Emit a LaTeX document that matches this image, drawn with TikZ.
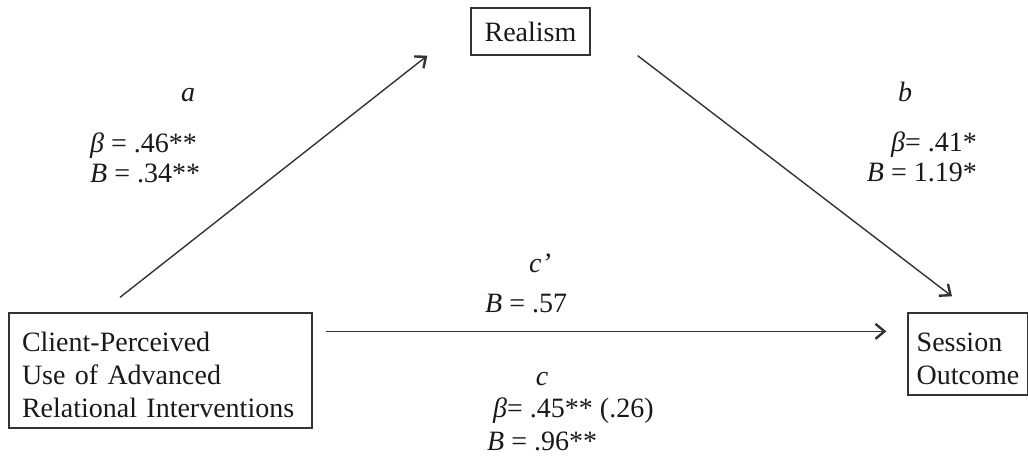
\documentclass[tikz,border=0pt]{standalone}
\usepackage{fontspec}
\setmainfont{Liberation Serif}
\usetikzlibrary{positioning, calc, arrows.meta}

% invisible strut that drops a box's text a little
\newcommand{\dropgap}{\rule{0pt}{29pt}}

\begin{document}
\begin{tikzpicture}[x=1pt, y=-1pt,
    box/.style={draw=black!80, line width=1.3pt, inner sep=0pt, text=black!90,
                font=\fontsize{28}{33}\selectfont},
    lbl/.style={inner sep=0pt, text=black!90, font=\fontsize{28}{30}\selectfont},
    effect/.style={draw=black!80, line width=1.4pt,
                   -{Straight Barb[length=9pt, width=15pt, line width=2.4pt]}}]

    % --- CANVAS ---
    % pixel grid: x to the right, y downwards
    \useasboundingbox (0,0) rectangle (1028,460);

    % --- VARIABLES ---
    % Mediator on top, predictor bottom left, outcome bottom right
    \node[box, minimum width=119pt, minimum height=47pt] (realism) at (530.5,31.5) {Realism};
    \node[box, align=left, text width=277pt, inner xsep=13pt, minimum height=115pt]
        (client) at (160.5,370.5) {\dropgap Client-Perceived\\Use of Advanced\\Relational Interventions};
    \node[box, align=left, inner xsep=8pt, minimum width=120pt, minimum height=82pt]
        (session) at (968,354) {\dropgap Session\\Outcome};

    % --- PATHS ---
    % a: predictor to mediator
    \draw[effect] ([shift={(-40.5pt,15pt)}]client.north) -- ([xshift=-43pt]realism.south west);
    % b: mediator to outcome
    \draw[effect] ([xshift=47pt]realism.south east) -- ([shift={(-16pt,16pt)}]session.north);
    % c': direct path
    \draw[effect] ([shift={(13pt,-19pt)}]client.north east) -- ([shift={(-21pt,-19pt)}]session.north west);

    % --- COEFFICIENTS ---
    % path a
    \node[lbl] (pathA) at (188,95) {\textit{a}};
    \node[lbl, align=left, anchor=west] (coefA) at (90,158) {\textit{β} = .46**\\\textit{B} = .34**};
    % path b
    \node[lbl] (pathB) at (905,92) {\textit{b}};
    \node[lbl, align=right, anchor=east] (coefB) at (977,157) {\textit{β}= .41*\\\textit{B} = 1.19*};
    % path c'
    \node[lbl] (pathCp) at (540,263) {\textit{c’}};
    \node[lbl, anchor=west] (coefCp) at (485,304) {\textit{B} = .57};
    % path c
    \node[lbl] (pathC) at (542,379) {\textit{c}};
    \node[lbl, anchor=west] (betaC) at (493,411) {\textit{β}= .45** (.26)};
    \node[lbl, anchor=west] (unstdC) at (487,441) {\textit{B} = .96**};

\end{tikzpicture}
\end{document}
